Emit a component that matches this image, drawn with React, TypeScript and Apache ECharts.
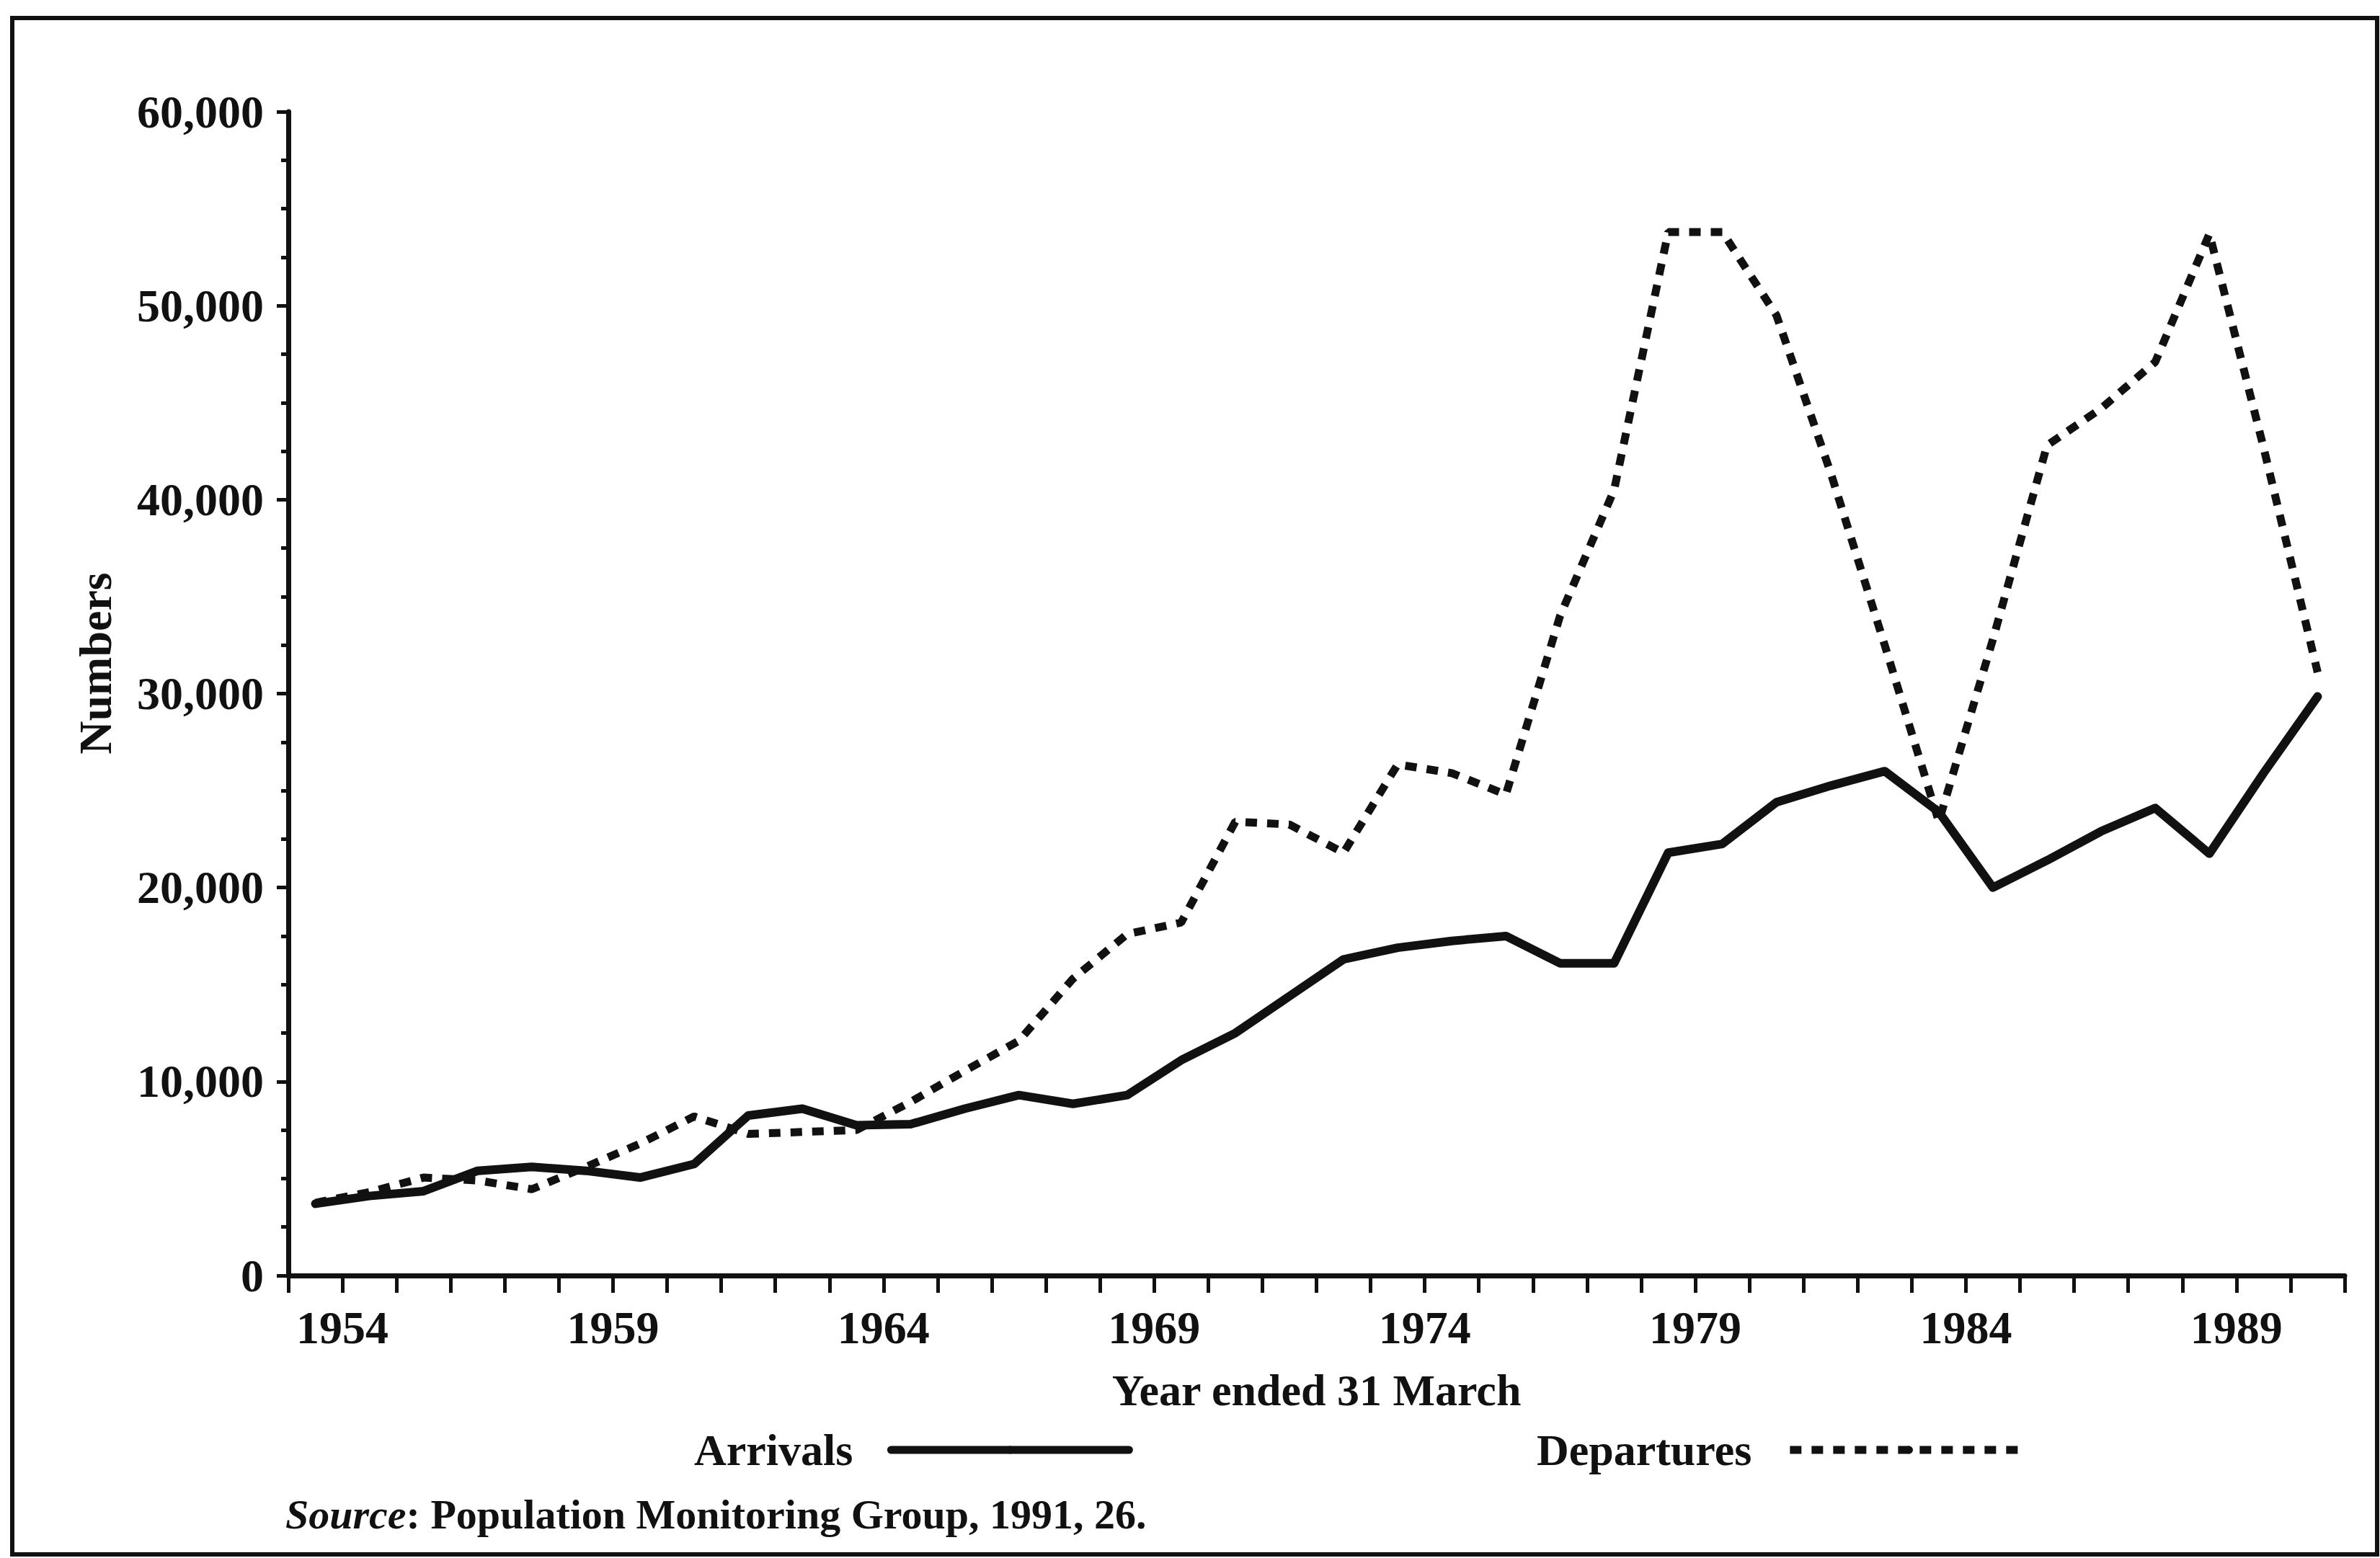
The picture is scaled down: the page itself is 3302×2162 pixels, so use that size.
import React, { useEffect, useRef } from "react";
import * as echarts from "echarts";

// Year ended 31 March (each point sits in the band between two yearly ticks)
const YEARS = [
  "1954", "1955", "1956", "1957", "1958", "1959", "1960", "1961", "1962", "1963",
  "1964", "1965", "1966", "1967", "1968", "1969", "1970", "1971", "1972", "1973",
  "1974", "1975", "1976", "1977", "1978", "1979", "1980", "1981", "1982", "1983",
  "1984", "1985", "1986", "1987", "1988", "1989", "1990", "1991",
];

const ARRIVALS = [
  3700, 4100, 4350, 5400, 5600, 5400, 5050, 5750, 8250, 8600,
  7750, 7800, 8600, 9300, 8850, 9300, 11100, 12500, 14400, 16300,
  16900, 17250, 17500, 16100, 16100, 21800, 22250, 24400, 25250, 26000,
  23900, 20000, 21400, 22900, 24100, 21750, 25900, 29850,
];

const DEPARTURES = [
  3750, 4300, 5050, 4900, 4450, 5600, 6800, 8200, 7300, 7400,
  7500, 8950, 10550, 12100, 15300, 17600, 18200, 23400, 23250, 21800,
  26350, 25900, 24800, 34000, 40500, 53800, 53800, 49500, 41400, 32500,
  23400, 32800, 42800, 44700, 47100, 53700, 42700, 31100,
];

const X_TICK_LABELS = [1954, 1959, 1964, 1969, 1974, 1979, 1984, 1989];
const X_MIN = 1953;
const X_MAX = 1991;

const FONT = "'Liberation Serif', 'Times New Roman', serif";
const INK = "#111111";

export default function App() {
  const ref = useRef<HTMLDivElement>(null);

  useEffect(() => {
    if (!ref.current) return;
    const chart = echarts.init(ref.current, undefined, { renderer: "svg" });
    chart.setOption({
      animation: false,
      backgroundColor: "#ffffff",
      grid: { left: 400, right: 49, top: 155, bottom: 392, containLabel: false },
      xAxis: [
        {
          type: "category",
          data: YEARS,
          boundaryGap: true,
          show: false,
        },
        {
          type: "value",
          min: X_MIN,
          max: X_MAX,
          interval: 1,
          position: "bottom",
          name: "Year ended 31 March",
          nameLocation: "middle",
          nameGap: 128,
          nameTextStyle: { fontFamily: FONT, fontWeight: "bold", fontSize: 62, color: INK },
          axisLine: { show: true, lineStyle: { color: INK, width: 7 } },
          axisTick: { show: true, length: 24, lineStyle: { color: INK, width: 5 } },
          axisLabel: {
            margin: 40,
            fontFamily: FONT,
            fontWeight: "bold",
            fontSize: 64,
            color: INK,
            formatter: (v: number) => (X_TICK_LABELS.includes(Math.round(v)) ? String(Math.round(v)) : ""),
          },
          splitLine: { show: false },
        },
      ],
      yAxis: {
        type: "value",
        min: 0,
        max: 60000,
        interval: 10000,
        name: "Numbers",
        nameLocation: "middle",
        nameRotate: 90,
        nameGap: 236,
        nameTextStyle: {
          fontFamily: FONT,
          fontWeight: "bold",
          fontSize: 64,
          color: INK,
          padding: [0, 0, 0, 84],
        },
        axisLine: { show: true, lineStyle: { color: INK, width: 7 } },
        axisTick: { show: true, length: 16, lineStyle: { color: INK, width: 5 } },
        minorTick: { show: true, splitNumber: 4, length: 10, lineStyle: { color: INK, width: 5 } },
        axisLabel: {
          margin: 34,
          fontFamily: FONT,
          fontWeight: "bold",
          fontSize: 64,
          color: INK,
          formatter: (v: number) => v.toLocaleString("en-US"),
        },
        splitLine: { show: false },
        minorSplitLine: { show: false },
      },
      legend: {
        left: 958,
        top: 1976,
        align: "right",
        itemWidth: 330,
        itemHeight: 14,
        itemGap: 560,
        data: ["Arrivals", "Departures"],
        lineStyle: { width: 11 },
        textStyle: {
          fontFamily: FONT,
          fontWeight: "bold",
          fontSize: 62,
          color: INK,
          padding: [0, 48, 0, 0],
        },
      },
      series: [
        {
          name: "Arrivals",
          type: "line",
          xAxisIndex: 0,
          data: ARRIVALS,
          symbol: "none",
          lineStyle: { color: INK, width: 12, join: "round", cap: "round" },
          itemStyle: { color: INK },
          z: 3,
        },
        {
          name: "Departures",
          type: "line",
          xAxisIndex: 0,
          data: DEPARTURES,
          symbol: "none",
          lineStyle: { color: INK, width: 11, type: [16, 14], cap: "butt" },
          itemStyle: { color: INK },
          z: 2,
        },
      ],
      graphic: [
        {
          type: "rect",
          shape: { x: 17, y: 25, width: 3281, height: 2132 },
          style: { fill: "none", stroke: INK, lineWidth: 6 },
          silent: true,
        },
        {
          type: "text",
          left: 396,
          top: 2072,
          style: {
            text: "{i|Source}: Population Monitoring Group, 1991, 26.",
            fontFamily: FONT,
            fontWeight: "bold",
            fontSize: 58,
            fill: INK,
            rich: {
              i: { fontFamily: FONT, fontWeight: "bold", fontStyle: "italic", fontSize: 58, color: INK },
            },
          },
        },
      ],
    });
    return () => chart.dispose();
  }, []);

  return (
    <div
      ref={ref}
      style={{ position: "fixed", left: 0, top: 0, width: 3302, height: 2162, background: "#ffffff" }}
    />
  );
}
